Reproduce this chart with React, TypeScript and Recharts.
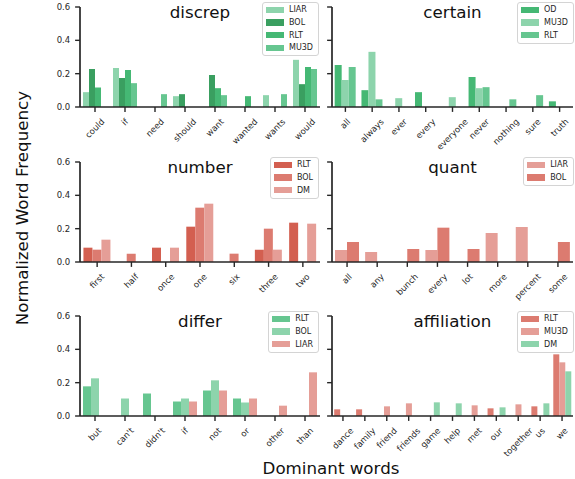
import React from 'react';
import { BarChart, Bar, XAxis, YAxis } from 'recharts';

const FONT = '"DejaVu Sans", sans-serif';
const INK = '#262626';

const G_LIGHT = '#8dd4ac';
const G_DARK = '#3a9f60';
const G_MID = '#45b874';
const G_SOFT = '#66c690';
const R_DARK = '#d35f50';
const R_MID = '#dc7b70';
const R_LIGHT = '#e59e97';

// discrep
const discrepWords = ['could', 'if', 'need', 'should', 'want', 'wanted', 'wants', 'would'];
const discrepLIAR = [0.089, 0.234, 0, 0.065, 0, 0, 0.071, 0.283];
const discrepBOL = [0.228, 0.174, 0, 0.077, 0.192, 0, 0, 0.137];
const discrepRLT = [0.117, 0.222, 0, 0, 0.113, 0.065, 0, 0.24];
const discrepMU3D = [0, 0.143, 0.077, 0, 0.071, 0, 0.077, 0.228];

// certain
const certainWords = ['all', 'always', 'ever', 'every', 'everyone', 'never', 'nothing', 'sure', 'truth'];
const certainOD = [0.252, 0.101, 0, 0.089, 0, 0.18, 0, 0, 0.034];
const certainMU3D = [0.162, 0.331, 0.053, 0, 0.059, 0.113, 0, 0, 0];
const certainRLT = [0.24, 0.046, 0, 0, 0, 0.119, 0.046, 0.071, 0];

// number
const numberWords = ['first', 'half', 'once', 'one', 'six', 'three', 'two'];
const numberRLT = [0.086, 0, 0.086, 0.212, 0, 0.074, 0.236];
const numberBOL = [0.074, 0.05, 0, 0.326, 0.05, 0.2, 0];
const numberDM = [0.134, 0, 0.086, 0.35, 0, 0.074, 0.23];

// quant
const quantWords = ['all', 'any', 'bunch', 'every', 'lot', 'more', 'percent', 'some'];
const quantLIAR = [0.072, 0.06, 0, 0.072, 0, 0.174, 0.21, 0];
const quantBOL = [0.12, 0, 0.078, 0.206, 0.078, 0, 0, 0.12];

// differ
const differWords = ['but', "can't", "didn't", 'if', 'not', 'or', 'other', 'than'];
const differRLT = [0.178, 0, 0.135, 0.087, 0.153, 0.105, 0, 0];
const differBOL = [0.226, 0.105, 0, 0.105, 0.214, 0.081, 0, 0];
const differLIAR = [0, 0, 0, 0.087, 0.153, 0.105, 0.062, 0.262];

// affiliation
const affilWords = ['dance', 'family', 'friend', 'friends', 'game', 'help', 'met', 'our', 'together', 'us', 'we'];
const affilRLT = [0.04, 0.04, 0, 0, 0, 0, 0, 0.046, 0, 0.058, 0.37];
const affilMU3D = [0, 0, 0.058, 0.076, 0, 0, 0.064, 0, 0.07, 0, 0.322];
const affilDM = [0, 0, 0, 0, 0.082, 0.076, 0, 0.052, 0, 0.076, 0.268];

const yTicks = [0, 0.2, 0.4, 0.6];

type Series = { name: string; values: number[]; color: string };

let ctx: CanvasRenderingContext2D | null = null;
function measure(t: string, size: number): number {
  try {
    if (!ctx) {
      const c = document.createElement('canvas');
      ctx = c.getContext('2d');
    }
    if (ctx) {
      ctx.font = `${size}px "DejaVu Sans"`;
      const w = ctx.measureText(t).width;
      if (isFinite(w) && w > 0) return w;
    }
  } catch (e) {
    // ignore
  }
  return t.length * size * 0.6;
}

const TICK_FS = 8.5;

function RotTick(props: any) {
  const { x, y, payload } = props;
  const text = String(payload.value);
  const w = measure(text, TICK_FS);
  const h = TICK_FS * 1.17;
  const d = (w + h) * 0.35355;
  return (
    <g transform={`translate(${x},${y + d})`}>
      <text x={0} y={0} dy="0.32em" transform="rotate(-45)" textAnchor="middle" fontSize={TICK_FS} fontFamily={FONT} fill={INK}>
        {text}
      </text>
    </g>
  );
}

function Panel(props: { title: string; words: string[]; series: Series[]; top: number; side: 'left' | 'right' }) {
  const { title, words, series, top, side } = props;
  const isLeft = side === 'left';
  const width = isLeft ? 325 : 250;
  const left = isLeft ? 0 : 325;
  const yw = isLeft ? 80 : 7;
  const mr = isLeft ? 5 : 2;
  const data = words.map((w, i) => {
    const row: any = { word: w };
    series.forEach((s) => {
      row[s.name] = s.values[i];
    });
    return row;
  });
  const plotCenter = yw + (width - yw - mr) / 2;
  return (
    <div style={{ position: 'absolute', left, top, width, height: 160 }}>
      <BarChart
        width={width}
        height={160}
        data={data}
        margin={{ top: 7, right: mr, left: 0, bottom: 0 }}
        barCategoryGap="10%"
        barGap={0}
      >
        <XAxis
          dataKey="word"
          interval={0}
          tick={<RotTick />}
          tickSize={4.9}
          tickMargin={4.9}
          height={53}
          axisLine={{ stroke: INK, strokeWidth: 1.7 }}
          tickLine={{ stroke: INK, strokeWidth: 1.4 }}
        />
        <YAxis
          domain={[0, 0.6]}
          ticks={yTicks}
          width={yw}
          tickSize={4.9}
          tickMargin={4.9}
          interval={0}
          tickFormatter={(v: number) => (isLeft ? v.toFixed(1) : '')}
          tick={{ fontSize: TICK_FS, fill: INK, fontFamily: FONT }}
          axisLine={{ stroke: INK, strokeWidth: 1.7 }}
          tickLine={{ stroke: INK, strokeWidth: 1.4 }}
        />
        {series.map((s) => (
          <Bar key={s.name} dataKey={s.name} fill={s.color} isAnimationActive={false} />
        ))}
      </BarChart>
      <svg width={width} height={24} style={{ position: 'absolute', left: 0, top: 0, pointerEvents: 'none' }}>
        <text x={plotCenter} y={18} textAnchor="middle" fontSize={16.7} fontFamily={FONT} fill="#111">
          {title}
        </text>
      </svg>
      <div
        style={{
          position: 'absolute',
          right: isLeft ? 6 : 1,
          top: 1.5,
          border: '1px solid #d4d4d4',
          borderRadius: 3,
          background: 'rgba(255,255,255,0.8)',
          padding: '1px 5px 1px 3px',
          fontFamily: FONT,
          fontSize: 8,
          color: INK,
        }}
      >
        {series.map((s) => (
          <div key={s.name} style={{ display: 'flex', alignItems: 'center', height: 12.7, whiteSpace: 'nowrap' }}>
            <span style={{ display: 'inline-block', width: 18, height: 6.5, background: s.color, marginRight: 5 }} />
            <span>{s.name}</span>
          </div>
        ))}
      </div>
    </div>
  );
}

export default function App() {
  return (
    <div
      style={{
        position: 'absolute',
        left: 0,
        top: 0,
        width: 575,
        height: 479,
        background: '#fff',
        fontFamily: FONT,
        overflow: 'hidden',
      }}
    >
      <Panel
        title="discrep"
        words={discrepWords}
        top={0}
        side="left"
        series={[
          { name: 'LIAR', values: discrepLIAR, color: G_LIGHT },
          { name: 'BOL', values: discrepBOL, color: G_DARK },
          { name: 'RLT', values: discrepRLT, color: G_MID },
          { name: 'MU3D', values: discrepMU3D, color: G_SOFT },
        ]}
      />
      <Panel
        title="certain"
        words={certainWords}
        top={0}
        side="right"
        series={[
          { name: 'OD', values: certainOD, color: G_MID },
          { name: 'MU3D', values: certainMU3D, color: G_LIGHT },
          { name: 'RLT', values: certainRLT, color: G_SOFT },
        ]}
      />
      <Panel
        title="number"
        words={numberWords}
        top={155}
        side="left"
        series={[
          { name: 'RLT', values: numberRLT, color: R_DARK },
          { name: 'BOL', values: numberBOL, color: R_MID },
          { name: 'DM', values: numberDM, color: R_LIGHT },
        ]}
      />
      <Panel
        title="quant"
        words={quantWords}
        top={155}
        side="right"
        series={[
          { name: 'LIAR', values: quantLIAR, color: R_LIGHT },
          { name: 'BOL', values: quantBOL, color: R_MID },
        ]}
      />
      <Panel
        title="differ"
        words={differWords}
        top={309}
        side="left"
        series={[
          { name: 'RLT', values: differRLT, color: G_SOFT },
          { name: 'BOL', values: differBOL, color: G_LIGHT },
          { name: 'LIAR', values: differLIAR, color: R_LIGHT },
        ]}
      />
      <Panel
        title="affiliation"
        words={affilWords}
        top={309}
        side="right"
        series={[
          { name: 'RLT', values: affilRLT, color: R_MID },
          { name: 'MU3D', values: affilMU3D, color: R_LIGHT },
          { name: 'DM', values: affilDM, color: G_LIGHT },
        ]}
      />
      <svg width={575} height={479} style={{ position: 'absolute', left: 0, top: 0, pointerEvents: 'none' }}>
        <text
          x={22}
          y={208}
          textAnchor="middle"
          dominantBaseline="central"
          transform="rotate(-90 22 208)"
          fontSize={16.7}
          fontFamily={FONT}
          fill="#111"
        >
          Normalized Word Frequency
        </text>
        <text x={331} y={468} textAnchor="middle" dominantBaseline="central" fontSize={16.7} fontFamily={FONT} fill="#111">
          Dominant words
        </text>
      </svg>
    </div>
  );
}
